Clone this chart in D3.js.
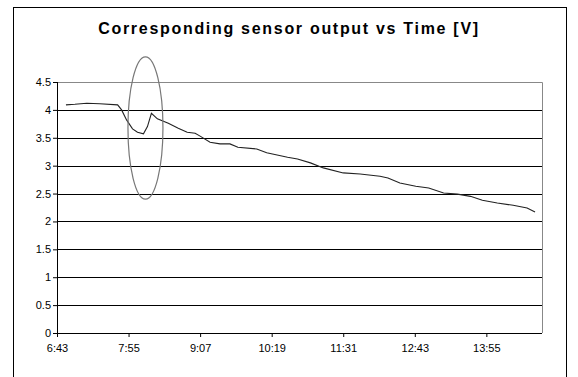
<!DOCTYPE html>
<html>
<head>
<meta charset="utf-8">
<script src="https://cdn.jsdelivr.net/npm/d3@7"></script>
<style>
  body { margin: 0; background: #fff; }
  svg { display: block; font-family: 'Liberation Sans', Arial, sans-serif; }
</style>
</head>
<body>
<div id="chart"></div>
<script>
// sensor readings
const times = ['6:52', '7:01', '7:13', '7:26', '7:44', '7:48', '7:53', '7:59', '8:04', '8:10',
  '8:14', '8:18', '8:24', '8:35', '8:45', '8:54', '9:02', '9:07', '9:17', '9:27',
  '9:37', '9:45', '10:04', '10:14', '10:35', '10:45', '10:58', '11:11', '11:31', '11:48',
  '12:08', '12:16', '12:28', '12:44', '12:57', '13:12', '13:26', '13:39', '13:51', '14:06',
  '14:22', '14:36', '14:44']
const volts = [4.09, 4.10, 4.12, 4.11, 4.09, 4.00, 3.82, 3.66, 3.60, 3.57,
  3.70, 3.94, 3.84, 3.76, 3.67, 3.60, 3.58, 3.53, 3.42, 3.39,
  3.39, 3.33, 3.30, 3.23, 3.15, 3.12, 3.05, 2.96, 2.87, 2.85,
  2.81, 2.78, 2.69, 2.63, 2.60, 2.51, 2.49, 2.45, 2.38, 2.33,
  2.29, 2.24, 2.17]
const xTickLabels = ['6:43', '7:55', '9:07', '10:19', '11:31', '12:43', '13:55']
const yTickValues = [0, 0.5, 1, 1.5, 2, 2.5, 3, 3.5, 4, 4.5]
const timeStart = '6:43'
const timeEnd = '14:51'
// the circled dip around 8:10
const markTime = '8:12'
const markTop = 4.95
const markBottom = 2.4

const toMinutes = (s) => {
  const [h, m] = s.split(':').map(Number)
  return h * 60 + m
}

const width = 578
const height = 377
const margin = { top: 82, right: 36, bottom: 44, left: 57 }
const innerWidth = width - margin.left - margin.right
const innerHeight = height - margin.top - margin.bottom

const svg = d3.select('#chart')
  .append('svg')
  .attr('width', width)
  .attr('height', height)

// outer chart frame
svg.append('rect')
  .attr('x', 13.5)
  .attr('y', 7.5)
  .attr('width', 553)
  .attr('height', 400)
  .attr('fill', 'none')
  .attr('stroke', '#000')

svg.append('text')
  .attr('x', 289)
  .attr('y', 34)
  .attr('text-anchor', 'middle')
  .attr('font-size', '16px')
  .attr('font-weight', 'bold')
  .attr('letter-spacing', '1.7px')
  .text('Corresponding sensor output vs Time [V]')

const g = svg.append('g')
  .attr('transform', `translate(${margin.left}, ${margin.top})`)

const xScale = d3.scaleLinear()
  .domain([toMinutes(timeStart), toMinutes(timeEnd)])
  .range([0, innerWidth])

const yScale = d3.scaleLinear()
  .domain([0, 4.5])
  .range([innerHeight, 0])

// gridlines
g.append('g')
  .selectAll('line')
  .data(yTickValues.filter(v => v > 0 && v < 4.5))
  .join('line')
  .attr('x1', 0)
  .attr('x2', innerWidth)
  .attr('y1', d => Math.round(yScale(d)) + 0.5)
  .attr('y2', d => Math.round(yScale(d)) + 0.5)
  .attr('stroke', '#000')

// plot area border top and right (grey)
g.append('path')
  .attr('d', `M0,${yScale(4.5) + 0.5}H${innerWidth + 0.5}V${innerHeight}`)
  .attr('fill', 'none')
  .attr('stroke', '#888')

// y axis
const yAxis = d3.axisLeft(yScale)
  .tickValues(yTickValues)
  .tickSize(4)
  .tickFormat(d3.format('~g'))
g.append('g')
  .call(yAxis)
  .call(a => a.select('.domain').attr('stroke', '#000').attr('d', `M0.5,0V${innerHeight}`))
  .call(a => a.selectAll('text').attr('font-size', '11px').attr('font-family', 'inherit').attr('fill', '#000').attr('x', -6))

// x axis
const xAxis = d3.axisBottom(xScale)
  .tickValues(xTickLabels.map(toMinutes))
  .tickSize(4)
  .tickFormat((d, i) => xTickLabels[i])
g.append('g')
  .attr('transform', `translate(0, ${innerHeight})`)
  .call(xAxis)
  .call(a => a.select('.domain').attr('stroke', '#000').attr('d', `M0,0.5H${innerWidth}`))
  .call(a => a.selectAll('text').attr('font-size', '11px').attr('font-family', 'inherit').attr('fill', '#000').attr('dy', '1.1em'))

// data line
const line = d3.line()
  .x((d, i) => xScale(toMinutes(times[i])))
  .y(d => yScale(d))

g.append('path')
  .datum(volts)
  .attr('d', line)
  .attr('fill', 'none')
  .attr('stroke', '#222')
  .attr('stroke-width', 1.1)

// ellipse around the dip
g.append('ellipse')
  .attr('cx', xScale(toMinutes(markTime)))
  .attr('cy', (yScale(markTop) + yScale(markBottom)) / 2)
  .attr('rx', 17.5)
  .attr('ry', (yScale(markBottom) - yScale(markTop)) / 2)
  .attr('fill', 'none')
  .attr('stroke', '#777')
  .attr('stroke-width', 1.2)
</script>
</body>
</html>
